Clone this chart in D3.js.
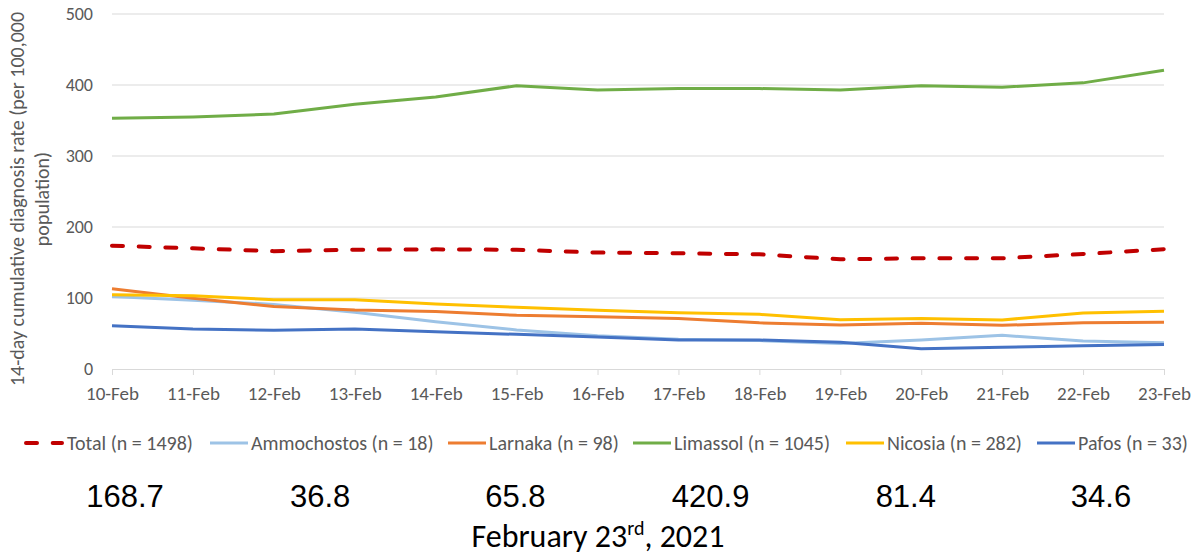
<!DOCTYPE html>
<html>
<head>
<meta charset="utf-8">
<script src="https://cdn.jsdelivr.net/npm/d3@7"></script>
<style>
  body { margin: 0; background: #fff; }
  svg { display: block; }
</style>
</head>
<body>
<div class="chart"></div>
<script>
// chart data
var dates = ["10-Feb", "11-Feb", "12-Feb", "13-Feb", "14-Feb", "15-Feb", "16-Feb",
    "17-Feb", "18-Feb", "19-Feb", "20-Feb", "21-Feb", "22-Feb", "23-Feb"];

var total = [173.7, 170, 166, 168, 168.5, 168, 164, 163, 161.5, 154.5, 156, 156, 162, 168.7];
var ammochostos = [102, 97, 91, 80, 66.6, 55, 47, 42, 40, 36, 41, 47.4, 39.4, 36.8];
var larnaka = [113, 99.5, 88, 83, 81, 75.6, 73.7, 71, 65, 62, 64.3, 61.5, 65, 65.8];
var limassol = [353, 355, 359, 373, 383, 399, 393, 395, 395, 393, 399, 397, 403, 420.9];
var nicosia = [104.7, 103, 97.6, 97.6, 91.5, 87, 82.6, 79.3, 77, 69.5, 71, 69, 79, 81.4];
var pafos = [61, 56.3, 54.5, 56.3, 52.5, 48.8, 45, 40.8, 40.8, 37.6, 28.6, 30.5, 32.8, 34.6];

var seriesNames = ["Total (n = 1498)", "Ammochostos (n = 18)", "Larnaka (n = 98)",
    "Limassol (n = 1045)", "Nicosia (n = 282)", "Pafos (n = 33)"];
var seriesValues = [total, ammochostos, larnaka, limassol, nicosia, pafos];
var seriesColors = ["#c00000", "#9dc3e6", "#ed7d31", "#70ad47", "#ffc000", "#4472c4"];

var yTicks = [0, 100, 200, 300, 400, 500];
var latestValues = ["168.7", "36.8", "65.8", "420.9", "81.4", "34.6"];

// svg size, margins
var svgWidth = 1204;
var svgHeight = 556;
var margin = { top: 14, right: 40, bottom: 187, left: 112 };
var width = svgWidth - margin.left - margin.right;
var height = svgHeight - margin.top - margin.bottom;

var font = "Carlito, Calibri, Lato, sans-serif";
var dash = "11,15.7";

var svg = d3.select(".chart")
    .append("svg")
    .attr("width", svgWidth)
    .attr("height", svgHeight);

var chartGroup = svg.append("g")
    .attr("transform", `translate(${margin.left}, ${margin.top})`);

var xScale = d3.scalePoint()
    .domain(dates)
    .range([0, width]);

var yScale = d3.scaleLinear()
    .domain([0, 500])
    .range([height, 0]);

// gridlines
chartGroup.append("g")
    .selectAll("line")
    .data(yTicks.filter(d => d > 0))
    .enter()
    .append("line")
    .attr("x1", 0)
    .attr("x2", width)
    .attr("y1", d => yScale(d))
    .attr("y2", d => yScale(d))
    .attr("stroke", "#d9d9d9")
    .attr("stroke-width", 1);

// y axis (labels only)
var leftAxis = d3.axisLeft(yScale).tickValues(yTicks).tickSize(0).tickPadding(19);
var yAxis = chartGroup.append("g").call(leftAxis);
yAxis.select(".domain").remove();
yAxis.selectAll("text")
    .attr("fill", "#595959")
    .style("font-family", font)
    .style("font-size", "18px");

// x axis
var bottomAxis = d3.axisBottom(xScale).tickSize(6);
var xAxis = chartGroup.append("g")
    .attr("transform", `translate(0, ${height})`)
    .call(bottomAxis);
xAxis.select(".domain").attr("stroke", "#d9d9d9");
xAxis.selectAll("line").attr("stroke", "#d9d9d9");
xAxis.selectAll("text")
    .attr("y", 31)
    .attr("dy", 0)
    .attr("fill", "#595959")
    .style("font-family", font)
    .style("font-size", "19px");

// lines
var line = d3.line()
    .x((d, i) => xScale(dates[i]))
    .y(d => yScale(d));

// draw in order so Total sits on top
var drawOrder = [1, 2, 4, 5, 3, 0];
drawOrder.forEach(function(k) {
    chartGroup.append("path")
        .datum(seriesValues[k])
        .attr("d", line)
        .attr("fill", "none")
        .attr("stroke", seriesColors[k])
        .attr("stroke-width", k === 0 ? 4 : 3)
        .attr("stroke-linejoin", "round")
        .attr("stroke-linecap", k === 0 ? "round" : "butt")
        .attr("stroke-dasharray", k === 0 ? dash : null);
});

// y axis title
var yTitle = svg.append("text")
    .attr("transform", "translate(24, 199) rotate(-90)")
    .attr("text-anchor", "middle")
    .attr("fill", "#595959")
    .style("font-family", font)
    .style("font-size", "20px");
yTitle.append("tspan").attr("x", 0).attr("y", 0)
    .text("14-day cumulative diagnosis rate (per 100,000");
yTitle.append("tspan").attr("x", 0).attr("y", 25)
    .text("population)");

// legend
var legendX = [24, 210, 448, 633, 846, 1037];
var legend = svg.append("g").attr("transform", "translate(0, 443)");
seriesNames.forEach(function(name, i) {
    var g = legend.append("g").attr("transform", `translate(${legendX[i]}, 0)`);
    g.append("line")
        .attr("x1", i === 0 ? 2 : 0).attr("x2", 38)
        .attr("y1", 0).attr("y2", 0)
        .attr("stroke", seriesColors[i])
        .attr("stroke-width", i === 0 ? 4 : 3)
        .attr("stroke-linecap", i === 0 ? "round" : "butt")
        .attr("stroke-dasharray", i === 0 ? dash : null);
    g.append("text")
        .attr("x", i === 0 ? 43 : 41)
        .attr("y", 7)
        .attr("fill", "#595959")
        .style("font-family", font)
        .style("font-size", "20px")
        .text(name);
});

// latest values row
var valueX = d3.scalePoint()
    .domain(d3.range(latestValues.length))
    .range([125, 1101]);
svg.append("g")
    .selectAll("text")
    .data(latestValues)
    .enter()
    .append("text")
    .attr("x", (d, i) => valueX(i))
    .attr("y", 507)
    .attr("text-anchor", "middle")
    .attr("fill", "#000")
    .style("font-family", "Arial, 'Liberation Sans', sans-serif")
    .style("font-size", "31px")
    .text(d => d);

// date caption
var caption = svg.append("text")
    .attr("x", 598)
    .attr("y", 547)
    .attr("text-anchor", "middle")
    .attr("fill", "#000")
    .style("font-family", font)
    .style("font-size", "32px");
caption.append("tspan").text("February 23");
caption.append("tspan").attr("dy", -12).style("font-size", "20px").text("rd");
caption.append("tspan").attr("dy", 12).text(", 2021");
</script>
</body>
</html>
